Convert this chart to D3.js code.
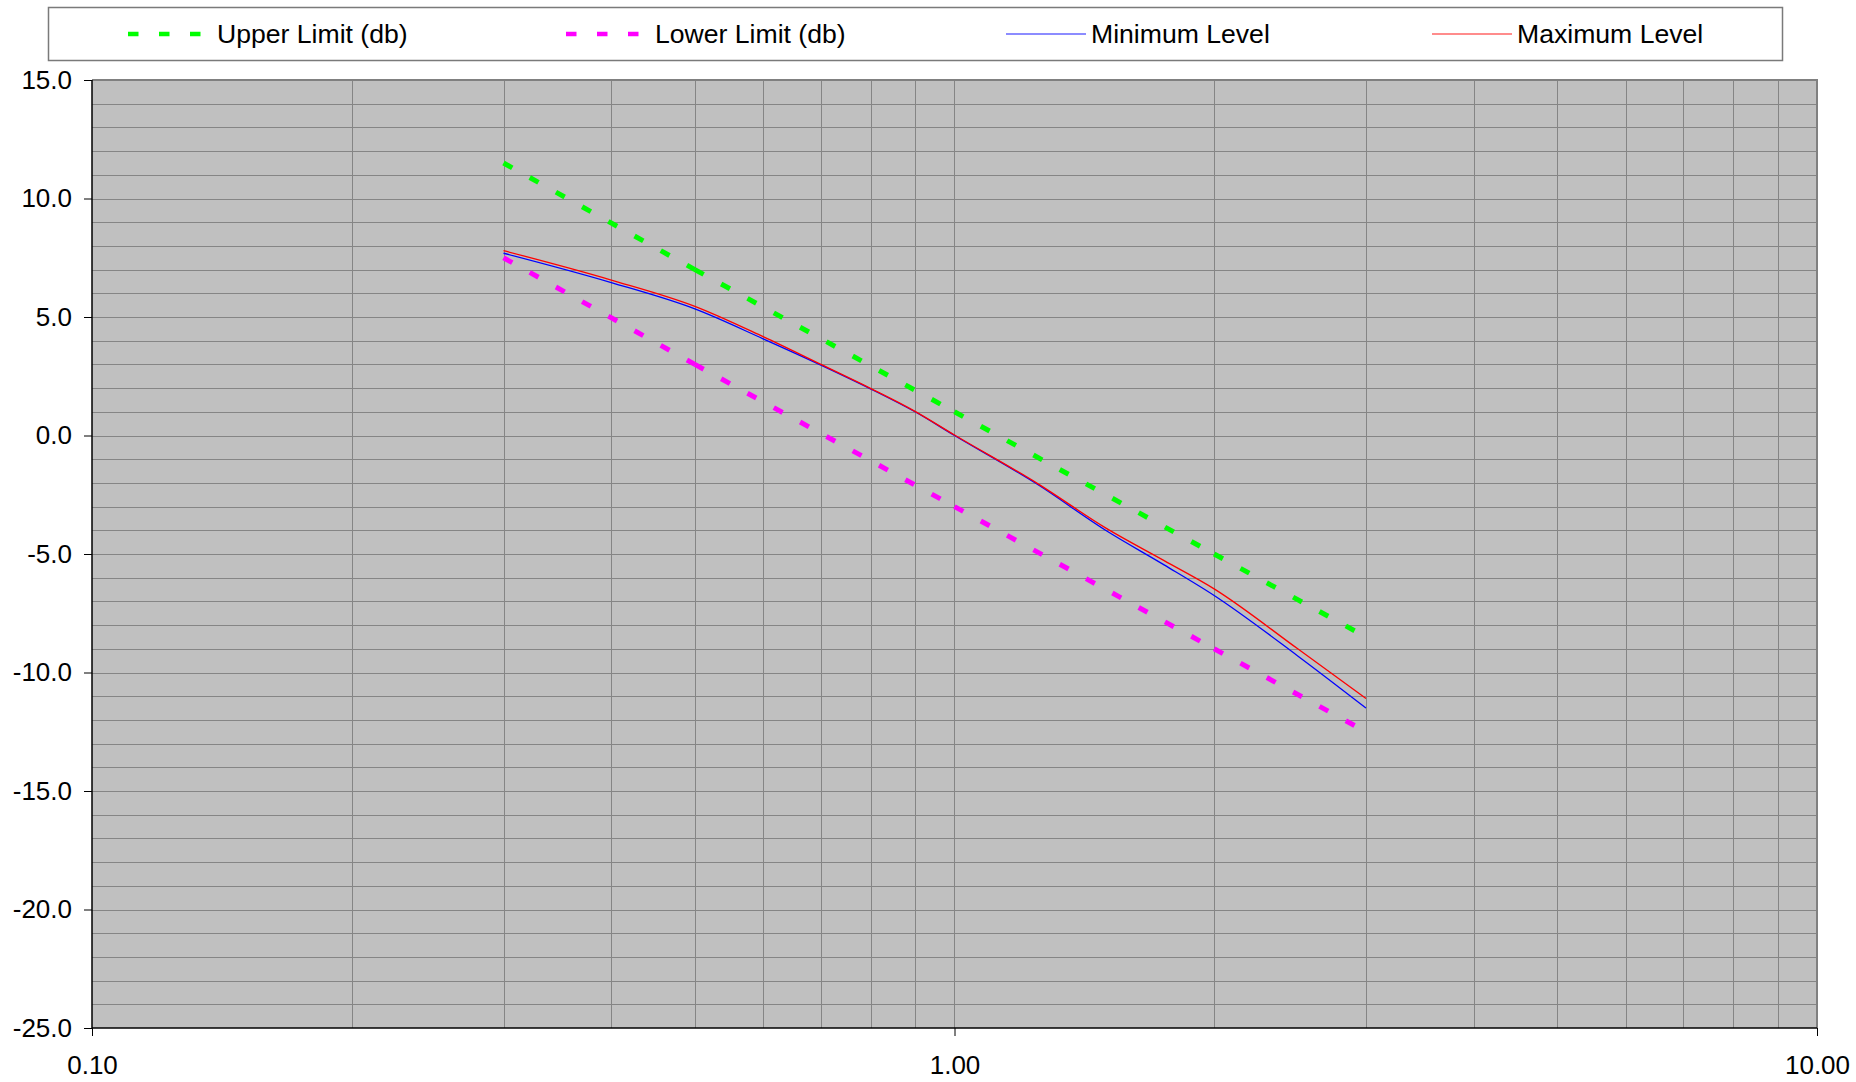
<html>
<head>
  <meta charset="utf-8" />
  <script src="https://d3js.org/d3.v7.min.js"></script>
</head>
<body style="margin: 0; background: white">
<script>

// frequencies of the measured curves
let freq = [0.3, 0.4, 0.5, 0.6, 0.7, 0.8, 0.9, 1.0, 1.25, 1.5, 1.75, 2.0, 2.5, 3.0]
let maxLevel = [7.80, 6.56, 5.45, 4.17, 3.0, 1.98, 1.02, 0.02, -2.04, -3.92, -5.28, -6.47, -9.0, -11.1]
let minLevel = [7.69, 6.45, 5.34, 4.08, 2.97, 1.96, 1.00, 0.0, -2.08, -4.02, -5.46, -6.75, -9.3, -11.5]

// limit lines
let limitFreq = [0.3, 0.5, 1.0, 2.0, 3.0]
let upperLimit = [11.5, 7.0, 1.0, -5.0, -8.5]
let lowerLimit = [7.5, 3.0, -3.0, -9.0, -12.5]

let yTicks = [15, 10, 5, 0, -5, -10, -15, -20, -25]
let xTicks = [0.1, 1, 10]
let legendNames = ['Upper Limit (db)', 'Lower Limit (db)', 'Minimum Level', 'Maximum Level']

let width = 1856, height = 1082
let plot = {left: 92, right: 1817, top: 80, bottom: 1028}
let font = "'Liberation Sans', Arial, sans-serif"

var svg = d3.select("body").append("svg")
            .attr("width", width)
            .attr("height", height)
            .style("font-family", font)

let x = d3.scaleLog().domain([0.1, 10]).range([plot.left, plot.right])
let y = d3.scaleLinear().domain([-25, 15]).range([plot.bottom, plot.top])

// plot background
svg.append("rect")
  .attr("x", plot.left).attr("y", plot.top)
  .attr("width", plot.right - plot.left).attr("height", plot.bottom - plot.top)
  .attr("fill", "#c0c0c0")

// horizontal grid, every 1 unit
let hGrid = d3.range(-24, 16, 1)
svg.append("g").selectAll("line").data(hGrid).enter().append("line")
  .attr("x1", plot.left).attr("x2", plot.right)
  .attr("y1", d => Math.round(y(d)) + 0.5).attr("y2", d => Math.round(y(d)) + 0.5)
  .attr("stroke", "#858585").attr("stroke-width", 1)

// vertical log grid
let vGrid = []
;[0.1, 1].forEach(dec => { for (let k = 2; k <= 10; k++) vGrid.push(dec * k) })
svg.append("g").selectAll("line").data(vGrid).enter().append("line")
  .attr("x1", d => Math.round(x(d)) + 0.5).attr("x2", d => Math.round(x(d)) + 0.5)
  .attr("y1", plot.top).attr("y2", plot.bottom)
  .attr("stroke", "#858585").attr("stroke-width", 1)

// top/right border
svg.append("path")
  .attr("d", `M${plot.left},${plot.top}H${plot.right}V${plot.bottom}`)
  .attr("fill", "none").attr("stroke", "#808080").attr("stroke-width", 2)

// axes
let yAxis = d3.axisLeft(y).tickValues(yTicks).tickFormat(d3.format(".1f")).tickSize(8).tickPadding(12)
let gy = svg.append("g").attr("transform", `translate(${plot.left},0)`).call(yAxis)
gy.select(".domain").attr("stroke", "black").attr("stroke-width", 1.5).attr("d", `M0,${plot.top}V${plot.bottom}`)
gy.selectAll("text").attr("font-size", 26).attr("font-family", font).attr("fill", "black")
  .text(d => d3.format(".1f")(d).replace("−", "-"))

let xAxis = d3.axisBottom(x).tickValues(xTicks).tickFormat(d3.format(".2f")).tickSize(8).tickPadding(20)
let gx = svg.append("g").attr("transform", `translate(0,${plot.bottom})`).call(xAxis)
gx.select(".domain").attr("stroke", "black").attr("stroke-width", 1.5).attr("d", `M${plot.left},0H${plot.right}`)
gx.selectAll("text").attr("font-size", 26).attr("font-family", font).attr("fill", "black")

// series
let line = d3.line().x(d => x(d[0])).y(d => y(d[1]))
let smooth = d3.line().x(d => x(d[0])).y(d => y(d[1])).curve(d3.curveMonotoneX)
let series = [
  {name: legendNames[0], xs: limitFreq, ys: upperLimit, color: "#00ff00", width: 5, dash: "10,20"},
  {name: legendNames[1], xs: limitFreq, ys: lowerLimit, color: "#ff00ff", width: 5, dash: "10,20"},
  {name: legendNames[2], xs: freq, ys: minLevel, color: "#0000ff", width: 1.3, dash: null},
  {name: legendNames[3], xs: freq, ys: maxLevel, color: "#ff0000", width: 1.3, dash: null}
]

series.forEach(s => {
  let pts = s.xs.map((f, i) => [f, s.ys[i]])
  if (s.dash) {
    // excel restarts the dash pattern on every segment
    for (let i = 0; i < pts.length - 1; i++) {
      svg.append("path")
        .attr("d", line([pts[i], pts[i + 1]]))
        .attr("fill", "none").attr("stroke", s.color)
        .attr("stroke-width", s.width).attr("stroke-dasharray", s.dash)
    }
  } else {
    svg.append("path")
      .attr("d", smooth(pts))
      .attr("fill", "none").attr("stroke", s.color)
      .attr("stroke-width", s.width)
  }
})

// legend
let legend = svg.append("g")
legend.append("rect")
  .attr("x", 48.5).attr("y", 7.5).attr("width", 1734).attr("height", 53)
  .attr("fill", "white").attr("stroke", "#7a7a7a").attr("stroke-width", 1.5)

let legendX = [128, 566, 1006, 1432]
series.forEach((s, i) => {
  let lx = legendX[i]
  if (s.dash) {
    legend.append("line")
      .attr("x1", lx).attr("x2", lx + 75).attr("y1", 34).attr("y2", 34)
      .attr("stroke", s.color).attr("stroke-width", 4.5).attr("stroke-dasharray", "10.5,20.5")
  } else {
    legend.append("line")
      .attr("x1", lx).attr("x2", lx + 80).attr("y1", 34).attr("y2", 34)
      .attr("stroke", s.color).attr("stroke-width", 1.3).attr("opacity", 0.6)
  }
  legend.append("text")
    .attr("x", s.dash ? lx + 89 : lx + 85).attr("y", 43)
    .attr("font-size", 26.6).attr("fill", "black")
    .text(s.name)
})

</script>
</body>
</html>
